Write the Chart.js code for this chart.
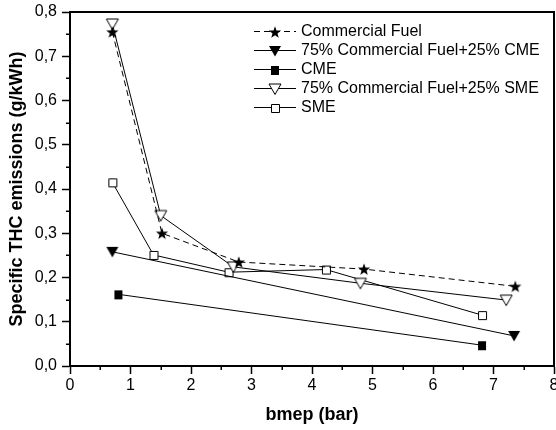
<!DOCTYPE html>
<html>
<head>
<meta charset="utf-8">
<script src="https://cdn.jsdelivr.net/npm/chart.js@4/dist/chart.umd.min.js"></script>
<style>
  html, body { margin: 0; padding: 0; background: #ffffff; }
  #wrap { width: 556px; height: 430px; }
</style>
</head>
<body>
<div id="wrap"><canvas id="c" width="556" height="430"></canvas></div>
<script>
// ---- data ----
const seriesNames = [
  'Commercial Fuel',
  '75% Commercial Fuel+25% CME',
  'CME',
  '75% Commercial Fuel+25% SME',
  'SME'
];
const cfX    = [0.70, 1.52, 2.79, 4.86, 7.36];
const cfY    = [0.755, 0.300, 0.235, 0.219, 0.180];
const cme75X = [0.70, 7.34];
const cme75Y = [0.258, 0.068];
const cmeX   = [0.80, 6.81];
const cmeY   = [0.162, 0.047];
const sme75X = [0.70, 1.50, 2.70, 4.80, 7.21];
const sme75Y = [0.773, 0.340, 0.224, 0.187, 0.149];
const smeX   = [0.70, 1.38, 2.62, 4.23, 6.81];
const smeY   = [0.415, 0.251, 0.212, 0.218, 0.115];
const xTickLabels = ['0', '1', '2', '3', '4', '5', '6', '7', '8'];
const yTickLabels = ['0,0', '0,1', '0,2', '0,3', '0,4', '0,5', '0,6', '0,7', '0,8'];
const xTitle = 'bmep (bar)';
const yTitle = 'Specific THC emissions (g/kWh)';

const FONT = '"Liberation Sans", Arial, Helvetica, sans-serif';

function pts(xs, ys) { return xs.map((x, i) => ({ x: x, y: ys[i] })); }

function marker(kind, filled) {
  const c = document.createElement('canvas');
  c.width = 16; c.height = 16;
  const g = c.getContext('2d');
  g.translate(8, 8);
  g.lineWidth = 1;
  g.strokeStyle = '#000';
  g.fillStyle = filled ? '#000' : '#fff';
  g.beginPath();
  if (kind === 'star') {
    const R = 6.4, r = 2.6;
    for (let k = 0; k < 10; k++) {
      const a = -Math.PI / 2 + k * Math.PI / 5;
      const rr = (k % 2 === 0) ? R : r;
      const px = Math.cos(a) * rr, py = Math.sin(a) * rr + 0.6;
      if (k === 0) g.moveTo(px, py); else g.lineTo(px, py);
    }
    g.closePath();
    g.fill();
  } else if (kind === 'tri') {
    g.moveTo(-6, -5);
    g.lineTo(6, -5);
    g.lineTo(0, 5.5);
    g.closePath();
    g.fill();
    if (!filled) g.stroke();
  } else if (kind === 'sq') {
    if (filled) {
      g.fillRect(-4, -4, 8, 9);
    } else {
      g.rect(-3.5, -3.5, 8, 8);
      g.fill();
      g.stroke();
    }
  }
  return c;
}

const markers = [
  marker('star', true),
  marker('tri', true),
  marker('sq', true),
  marker('tri', false),
  marker('sq', false)
];
const dashes = [[6, 4], [], [], [], []];
const seriesData = [pts(cfX, cfY), pts(cme75X, cme75Y), pts(cmeX, cmeY), pts(sme75X, sme75Y), pts(smeX, smeY)];

const datasets = seriesNames.map((name, i) => ({
  label: name,
  data: seriesData[i],
  borderColor: '#000',
  backgroundColor: '#000',
  borderWidth: 1,
  borderDash: dashes[i],
  pointStyle: markers[i],
  pointRadius: 6,
  tension: 0,
  fill: false
}));

const framePlugin = {
  id: 'frame',
  afterDraw(chart) {
    const ctx = chart.ctx;
    const a = chart.chartArea;
    const xs = chart.scales.x, ys = chart.scales.y;
    ctx.save();
    // top and right frame
    ctx.strokeStyle = '#000';
    ctx.lineWidth = 2;
    ctx.beginPath();
    ctx.moveTo(a.left, a.top);
    ctx.lineTo(a.right, a.top);
    ctx.lineTo(a.right, a.bottom);
    ctx.stroke();
    // minor ticks
    ctx.lineWidth = 1.5;
    ctx.beginPath();
    for (let i = 0; i < yTickLabels.length - 1; i++) {
      const py = Math.round(ys.getPixelForValue(i * 0.1 + 0.05)) + 0.25;
      ctx.moveTo(a.left - 4, py);
      ctx.lineTo(a.left, py);
    }
    for (let i = 0; i < xTickLabels.length - 1; i++) {
      const px = Math.round(xs.getPixelForValue(i + 0.5)) + 0.25;
      ctx.moveTo(px, a.bottom);
      ctx.lineTo(px, a.bottom + 4);
    }
    ctx.stroke();
    // legend
    const x0 = a.left + 184, x1 = a.left + 226, xm = a.left + 205, xt = a.left + 231;
    ctx.font = '16px ' + FONT;
    ctx.textBaseline = 'middle';
    ctx.textAlign = 'left';
    ctx.fillStyle = '#000';
    seriesNames.forEach((name, i) => {
      const y = Math.round(a.top + 19 + i * 19) + 0.5;
      ctx.lineWidth = 1;
      ctx.setLineDash(dashes[i]);
      ctx.beginPath();
      ctx.moveTo(x0, y);
      ctx.lineTo(x1, y);
      ctx.stroke();
      ctx.setLineDash([]);
      const m = markers[i];
      ctx.drawImage(m, Math.round(xm - m.width / 2), Math.round(y - m.height / 2));
      ctx.fillText(name, xt, y);
    });
    ctx.restore();
  }
};

new Chart(document.getElementById('c'), {
  type: 'line',
  data: { datasets: datasets },
  options: {
    responsive: false,
    animation: false,
    events: [],
    layout: { autoPadding: false, padding: { left: 0, right: 2, top: 12, bottom: 0 } },
    plugins: {
      legend: { display: false },
      tooltip: { enabled: false }
    },
    scales: {
      x: {
        type: 'linear',
        min: 0, max: 8,
        afterFit(s) { s.height = 64; s.paddingLeft = 0; s.paddingRight = 0; },
        ticks: {
          stepSize: 1,
          maxRotation: 0,
          autoSkip: false,
          padding: 2,
          color: '#000',
          font: { family: FONT, size: 16 },
          callback: (v, i) => xTickLabels[i]
        },
        grid: { display: true, drawOnChartArea: false, drawTicks: true, tickLength: 8, tickColor: '#000', tickWidth: 1.5 },
        border: { display: true, color: '#000', width: 2 },
        title: { display: true, text: xTitle, color: '#000', font: { family: FONT, size: 18, weight: 'bold' }, padding: { top: 4, bottom: 4 } }
      },
      y: {
        type: 'linear',
        min: 0, max: 0.8,
        afterFit(s) { s.width = 70; s.paddingTop = 0; s.paddingBottom = 0; },
        ticks: {
          stepSize: 0.1,
          autoSkip: false,
          padding: 5,
          color: '#000',
          font: { family: FONT, size: 16 },
          callback: (v, i) => yTickLabels[i]
        },
        grid: { display: true, drawOnChartArea: false, drawTicks: true, tickLength: 8, tickColor: '#000', tickWidth: 1.5 },
        border: { display: true, color: '#000', width: 2 },
        title: { display: true, text: yTitle, color: '#000', font: { family: FONT, size: 18, weight: 'bold' }, padding: { top: 6, bottom: 4 } }
      }
    }
  },
  plugins: [framePlugin]
});
</script>
</body>
</html>
